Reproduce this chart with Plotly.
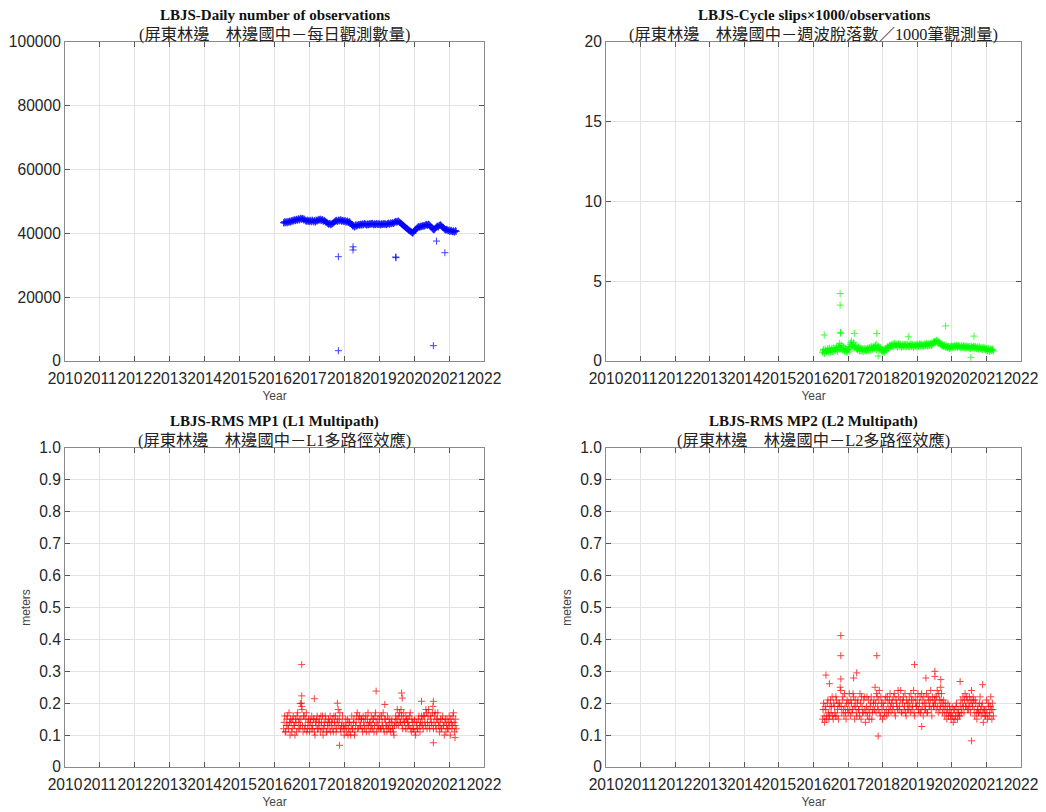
"""LBJS GNSS station quality: daily observations, cycle slips, MP1 and MP2."""

import plotly.graph_objects as go
from plotly.subplots import make_subplots

# sample epochs: one every ~11 days from 2016.26, plus a second set half a step later
start_year = 2016.26
step_year = 0.031

obs_count = [
    43400, 43700, 43300, 43600, 43800, 43500, 43900, 43700,
    44100, 43900, 44300, 44000, 44400, 44200, 44600, 44300,
    44800, 44500, 44700, 44300, 44100, 43800, 44200, 43900,
    43700, 44100, 43800, 44000, 43600, 43900, 44200, 43800,
    44400, 44200, 44500, 44100, 44300, 43900, 44000, 43700,
    43400, 43100, 42900, 43200, 42800, 43000, 43300, 43600,
    43900, 44100, 43800, 44200, 44000, 44300, 43900, 44100,
    43800, 44000, 43600, 43900, 43500, 43700, 43300, 42800,
    42200, 42500, 42100, 42700, 42400, 42800, 42500, 42900,
    42700, 43000, 42800, 43100, 42900, 42600, 43000, 42800,
    43100, 42900, 43200, 42700, 43000, 42800, 43100, 42900,
    42800, 43000, 42700, 42900, 43100, 42800, 43000, 42700,
    43000, 43200, 42900, 43300, 43100, 43400, 43200, 43600,
    43800, 43600, 43900, 43500, 43300, 43000, 42700, 42400,
    42100, 41800, 41500, 41200, 41000, 40700, 40500, 40200,
    40400, 40800, 41200, 41600, 41900, 42200, 42000, 42300,
    42200, 42500, 42300, 42600, 42800, 42500, 42900, 42600,
    42100, 41700, 41300, 41100, 41500, 41900, 42300, 42000,
    42500, 42700, 42300, 42000, 41600, 41200, 41000, 41300,
    40800, 41100, 40700, 40900, 40500, 40800, 40400, 40900,
]
obs_count_mid = [
    43200, 43500, 43600, 43300, 43600, 43800, 43500, 44000,
    43800, 44200, 44000, 44400, 44100, 44500, 44200, 44700,
    44400, 44600, 44200, 44500, 43900, 44000, 43700, 44100,
    43900, 43600, 44200, 43700, 44000, 43500, 44000, 44100,
    44100, 44400, 44000, 44300, 43800, 44100, 43600, 43500,
    43200, 42900, 43100, 42700, 43000, 43200, 43500, 43800,
    44000, 43700, 44100, 43900, 44200, 43800, 44000, 43700,
    43900, 43500, 43800, 43400, 43600, 43100, 42900, 42500,
    42400, 42000, 42600, 42300, 42600, 42700, 42800, 42600,
    42900, 42600, 43000, 42800, 42700, 42900, 42700, 43000,
    42800, 43100, 42900, 42900, 42700, 43000, 42800, 43000,
    42900, 42700, 43000, 42800, 42900, 43100, 42800, 42900,
    43100, 42900, 43200, 43000, 43300, 43100, 43500, 43700,
    43500, 43800, 43700, 43400, 43100, 42800, 42500, 42200,
    41900, 41600, 41400, 41000, 40800, 40500, 40300, 40000,
    40600, 41000, 41400, 41700, 42100, 41900, 42200, 42100,
    42400, 42200, 42500, 42700, 42600, 42800, 42700, 42400,
    41900, 41500, 41200, 41300, 41700, 42100, 42200, 42400,
    42600, 42500, 42100, 41800, 41400, 41100, 41200, 41000,
    40900, 40600, 41000, 40600, 40700, 40500, 40700, 40600,
]
obs_out_year = [2017.83, 2017.83, 2018.25, 2018.25, 2019.47, 2019.48, 2020.55, 2020.64, 2020.88]
obs_out_value = [32700, 3230, 35800, 34800, 32600, 32400, 4800, 37600, 33950]

slips = [
    0.55, 0.72, 0.48, 0.66, 0.60, 0.78, 0.52, 0.70,
    0.62, 0.80, 0.58, 0.74, 0.66, 0.85, 0.60, 0.90,
    1.10, 0.75, 0.95, 0.68, 0.82, 0.60, 0.76, 0.55,
    0.70, 0.90, 1.05, 1.25, 0.95, 1.15, 0.85, 0.98,
    0.80, 0.70, 0.85, 0.65, 0.78, 0.60, 0.74, 0.68,
    0.72, 0.66, 0.80, 0.70, 0.85, 0.75, 0.90, 0.78,
    0.95, 0.82, 1.05, 0.76, 0.88, 0.70, 0.82, 0.65,
    0.58, 0.70, 0.62, 0.80, 0.75, 0.92, 0.85, 1.00,
    0.95, 1.05, 0.90, 1.10, 0.98, 1.02, 0.88, 1.08,
    0.92, 1.00, 0.86, 1.04, 0.95, 0.90, 1.06, 0.94,
    0.98, 0.88, 1.05, 0.92, 1.00, 0.85, 1.02, 0.96,
    0.90, 1.04, 0.94, 1.08, 0.96, 1.02, 0.92, 1.06,
    0.98, 1.10, 0.95, 1.05, 1.00, 1.12, 0.96, 1.08,
    1.15, 1.25, 1.20, 1.28, 1.10, 1.18, 1.05, 0.98,
    1.00, 0.92, 0.96, 0.86, 0.90, 0.82, 0.88, 0.80,
    0.85, 0.92, 0.88, 0.95, 0.90, 0.98, 0.86, 0.94,
    0.90, 0.84, 0.96, 0.88, 0.92, 0.80, 0.94, 0.86,
    0.82, 0.90, 0.78, 0.88, 0.84, 0.92, 0.80, 0.86,
    0.78, 0.88, 0.74, 0.84, 0.80, 0.70, 0.82, 0.76,
    0.68, 0.78, 0.64, 0.74, 0.60, 0.72, 0.66, 0.70,
]
slips_mid = [
    0.64, 0.50, 0.75, 0.58, 0.70, 0.62, 0.80, 0.56,
    0.74, 0.60, 0.82, 0.66, 0.78, 0.70, 0.95, 0.72,
    0.85, 1.00, 0.70, 0.88, 0.62, 0.78, 0.58, 0.72,
    0.80, 0.62, 1.15, 0.90, 1.05, 0.82, 0.92, 0.76,
    0.72, 0.88, 0.62, 0.80, 0.66, 0.76, 0.58, 0.80,
    0.62, 0.78, 0.68, 0.82, 0.66, 0.88, 0.72, 0.84,
    0.80, 0.98, 0.70, 0.92, 0.78, 0.86, 0.68, 0.74,
    0.66, 0.54, 0.74, 0.66, 0.86, 0.78, 0.96, 0.90,
    1.00, 0.92, 1.06, 0.94, 1.08, 0.92, 1.04, 0.96,
    1.04, 0.90, 0.98, 0.92, 1.02, 1.00, 0.90, 1.02,
    0.92, 1.02, 0.94, 1.06, 0.90, 0.98, 0.92, 1.04,
    1.00, 0.92, 1.06, 0.98, 1.04, 0.94, 1.00, 0.96,
    1.04, 0.96, 1.08, 0.98, 1.06, 1.02, 1.12, 1.20,
    1.22, 1.16, 1.30, 1.14, 1.24, 1.08, 1.12, 0.94,
    0.96, 1.02, 0.88, 0.94, 0.84, 0.92, 0.78, 0.90,
    0.94, 0.84, 0.96, 0.86, 0.94, 0.88, 0.96, 0.90,
    0.86, 0.94, 0.84, 0.96, 0.86, 0.90, 0.84, 0.92,
    0.88, 0.80, 0.94, 0.82, 0.90, 0.86, 0.92, 0.80,
    0.86, 0.76, 0.90, 0.78, 0.74, 0.86, 0.72, 0.84,
    0.74, 0.66, 0.80, 0.62, 0.76, 0.66, 0.74, 0.62,
]
slips_out_year = [2016.77, 2016.77, 2016.78, 2016.79, 2016.31, 2017.18, 2017.83,
                  2019.82, 2020.64, 2020.55, 2017.87, 2018.74]
slips_out_value = [4.23, 3.5, 1.8, 1.73, 1.63, 1.73, 1.73, 2.2, 1.56, 0.23, 0.31, 1.52]

mp1 = [
    0.12, 0.16, 0.11, 0.15, 0.13, 0.17, 0.10, 0.14,
    0.12, 0.16, 0.13, 0.15, 0.11, 0.17, 0.14, 0.12,
    0.15, 0.18, 0.11, 0.16, 0.13, 0.17, 0.12, 0.15,
    0.11, 0.14, 0.16, 0.12, 0.15, 0.10, 0.13, 0.16,
    0.12, 0.15, 0.11, 0.14, 0.16, 0.12, 0.13, 0.15,
    0.11, 0.14, 0.12, 0.16, 0.13, 0.15, 0.11, 0.14,
    0.16, 0.12, 0.15, 0.13, 0.17, 0.11, 0.14, 0.12,
    0.10, 0.13, 0.11, 0.15, 0.12, 0.14, 0.10, 0.16,
    0.12, 0.15, 0.11, 0.14, 0.17, 0.12, 0.16, 0.13,
    0.15, 0.11, 0.14, 0.12, 0.16, 0.13, 0.17, 0.11,
    0.14, 0.16, 0.12, 0.15, 0.13, 0.17, 0.11, 0.15,
    0.13, 0.16, 0.12, 0.14, 0.17, 0.11, 0.15, 0.13,
    0.16, 0.12, 0.14, 0.11, 0.15, 0.13, 0.10, 0.14,
    0.15, 0.18, 0.13, 0.17, 0.14, 0.16, 0.12, 0.17,
    0.14, 0.16, 0.12, 0.15, 0.13, 0.17, 0.11, 0.14,
    0.12, 0.15, 0.10, 0.14, 0.12, 0.16, 0.11, 0.13,
    0.15, 0.12, 0.16, 0.13, 0.17, 0.14, 0.18, 0.12,
    0.16, 0.13, 0.19, 0.14, 0.17, 0.12, 0.15, 0.13,
    0.11, 0.15, 0.12, 0.16, 0.13, 0.14, 0.11, 0.15,
    0.12, 0.16, 0.10, 0.14, 0.13, 0.17, 0.11, 0.15,
]
mp1_mid = [
    0.14, 0.11, 0.13, 0.16, 0.12, 0.14, 0.15, 0.11,
    0.15, 0.13, 0.10, 0.14, 0.16, 0.12, 0.15, 0.13,
    0.20, 0.13, 0.16, 0.12, 0.15, 0.11, 0.14, 0.13,
    0.15, 0.12, 0.13, 0.15, 0.11, 0.14, 0.15, 0.12,
    0.14, 0.13, 0.16, 0.12, 0.10, 0.14, 0.16, 0.11,
    0.13, 0.15, 0.14, 0.11, 0.14, 0.12, 0.16, 0.13,
    0.11, 0.14, 0.18, 0.15, 0.12, 0.13, 0.16, 0.13,
    0.12, 0.15, 0.13, 0.10, 0.14, 0.11, 0.13, 0.12,
    0.14, 0.10, 0.13, 0.16, 0.12, 0.15, 0.13, 0.15,
    0.12, 0.16, 0.13, 0.15, 0.11, 0.15, 0.13, 0.14,
    0.12, 0.13, 0.15, 0.11, 0.16, 0.14, 0.13, 0.12,
    0.15, 0.12, 0.16, 0.13, 0.12, 0.15, 0.13, 0.11,
    0.13, 0.15, 0.12, 0.14, 0.12, 0.11, 0.13, 0.16,
    0.13, 0.15, 0.16, 0.14, 0.18, 0.13, 0.15, 0.14,
    0.12, 0.15, 0.14, 0.13, 0.16, 0.12, 0.15, 0.12,
    0.14, 0.11, 0.13, 0.12, 0.15, 0.13, 0.14, 0.16,
    0.13, 0.16, 0.14, 0.18, 0.12, 0.16, 0.13, 0.15,
    0.14, 0.17, 0.12, 0.16, 0.13, 0.15, 0.17, 0.14,
    0.13, 0.12, 0.15, 0.13, 0.10, 0.15, 0.13, 0.12,
    0.14, 0.13, 0.15, 0.12, 0.16, 0.14, 0.13, 0.12,
]
mp1_out_year = [2016.78, 2016.78, 2016.74, 2016.78, 2017.14, 2017.86, 2018.91,
                2019.64, 2019.66, 2017.80, 2020.55, 2020.21, 2020.55, 2021.17, 2019.16]
mp1_out_value = [0.321, 0.223, 0.199, 0.19, 0.214, 0.068, 0.238,
                 0.232, 0.216, 0.2, 0.076, 0.206, 0.206, 0.092, 0.196]

mp2 = [
    0.15, 0.20, 0.14, 0.18, 0.16, 0.21, 0.15, 0.19,
    0.17, 0.22, 0.15, 0.19, 0.16, 0.21, 0.18, 0.15,
    0.20, 0.24, 0.17, 0.22, 0.16, 0.19, 0.15, 0.21,
    0.17, 0.23, 0.16, 0.20, 0.18, 0.22, 0.15, 0.19,
    0.16, 0.21, 0.18, 0.23, 0.15, 0.19, 0.17, 0.22,
    0.14, 0.19, 0.16, 0.21, 0.17, 0.20, 0.15, 0.18,
    0.21, 0.25, 0.17, 0.22, 0.18, 0.24, 0.16, 0.20,
    0.15, 0.19, 0.17, 0.22, 0.16, 0.20, 0.18, 0.23,
    0.17, 0.21, 0.19, 0.23, 0.16, 0.20, 0.18, 0.22,
    0.19, 0.24, 0.17, 0.21, 0.18, 0.23, 0.16, 0.20,
    0.18, 0.22, 0.17, 0.21, 0.19, 0.24, 0.16, 0.20,
    0.19, 0.23, 0.17, 0.22, 0.18, 0.21, 0.16, 0.20,
    0.18, 0.23, 0.17, 0.21, 0.19, 0.24, 0.16, 0.20,
    0.19, 0.22, 0.18, 0.24, 0.17, 0.21, 0.19, 0.23,
    0.17, 0.21, 0.16, 0.19, 0.15, 0.20, 0.17, 0.18,
    0.15, 0.19, 0.14, 0.18, 0.16, 0.20, 0.15, 0.17,
    0.16, 0.21, 0.18, 0.22, 0.17, 0.23, 0.19, 0.21,
    0.18, 0.22, 0.17, 0.24, 0.19, 0.21, 0.16, 0.20,
    0.15, 0.19, 0.17, 0.22, 0.16, 0.20, 0.14, 0.18,
    0.16, 0.21, 0.15, 0.19, 0.17, 0.22, 0.15, 0.18,
]
mp2_mid = [
    0.18, 0.16, 0.19, 0.15, 0.20, 0.17, 0.16, 0.21,
    0.19, 0.16, 0.20, 0.17, 0.22, 0.16, 0.20, 0.19,
    0.25, 0.19, 0.21, 0.18, 0.23, 0.17, 0.20, 0.18,
    0.20, 0.18, 0.21, 0.17, 0.23, 0.19, 0.21, 0.17,
    0.20, 0.18, 0.16, 0.20, 0.22, 0.17, 0.21, 0.18,
    0.17, 0.22, 0.18, 0.15, 0.19, 0.22, 0.17, 0.20,
    0.18, 0.20, 0.23, 0.19, 0.21, 0.17, 0.22, 0.18,
    0.20, 0.16, 0.21, 0.18, 0.22, 0.17, 0.21, 0.19,
    0.20, 0.18, 0.22, 0.17, 0.21, 0.19, 0.24, 0.18,
    0.21, 0.17, 0.20, 0.22, 0.19, 0.17, 0.21, 0.18,
    0.20, 0.19, 0.23, 0.18, 0.21, 0.17, 0.22, 0.19,
    0.21, 0.18, 0.20, 0.17, 0.23, 0.19, 0.22, 0.18,
    0.20, 0.17, 0.22, 0.19, 0.21, 0.18, 0.22, 0.19,
    0.21, 0.20, 0.22, 0.19, 0.23, 0.18, 0.21, 0.20,
    0.19, 0.18, 0.20, 0.17, 0.18, 0.16, 0.19, 0.16,
    0.17, 0.16, 0.18, 0.15, 0.19, 0.17, 0.18, 0.16,
    0.19, 0.17, 0.20, 0.19, 0.21, 0.19, 0.22, 0.18,
    0.20, 0.19, 0.21, 0.20, 0.22, 0.18, 0.21, 0.17,
    0.18, 0.17, 0.20, 0.18, 0.19, 0.17, 0.18, 0.16,
    0.18, 0.17, 0.20, 0.16, 0.19, 0.18, 0.20, 0.16,
]
mp2_out_year = [2016.79, 2016.79, 2016.79, 2016.36, 2016.46, 2017.25, 2017.16, 2017.83,
                2017.87, 2018.92, 2019.51, 2019.51, 2019.25, 2019.68, 2019.68,
                2020.57, 2020.89, 2020.24, 2019.13]
mp2_out_value = [0.412, 0.349, 0.276, 0.288, 0.261, 0.295, 0.279, 0.349,
                 0.097, 0.321, 0.3, 0.284, 0.279, 0.274, 0.25,
                 0.082, 0.258, 0.268, 0.127]

year_ticks = list(range(2010, 2023))
meter_ticks = [0, 0.1, 0.2, 0.3, 0.4, 0.5, 0.6, 0.7, 0.8, 0.9, 1.0]
meter_labels = ["0", "0.1", "0.2", "0.3", "0.4", "0.5", "0.6", "0.7", "0.8", "0.9", "1.0"]

epochs = [start_year + step_year * i for i in range(len(obs_count))]
epochs_mid = [e + step_year / 2 for e in epochs]

panels = [
    ([obs_count, obs_count_mid], obs_out_year, obs_out_value, "#0000ff",
     "LBJS-Daily number of observations", "(屏東林邊　林邊國中－每日觀測數量)",
     [0, 100000], [0, 20000, 40000, 60000, 80000, 100000], None, None),
    ([slips, slips_mid], slips_out_year, slips_out_value, "#00ff00",
     "LBJS-Cycle slips×1000/observations", "(屏東林邊　林邊國中－週波脫落數／1000筆觀測量)",
     [0, 20], [0, 5, 10, 15, 20], None, None),
    ([mp1, mp1_mid], mp1_out_year, mp1_out_value, "#ff0000",
     "LBJS-RMS MP1 (L1 Multipath)", "(屏東林邊　林邊國中－L1多路徑效應)",
     [0, 1], meter_ticks, meter_labels, "meters"),
    ([mp2, mp2_mid], mp2_out_year, mp2_out_value, "#ff0000",
     "LBJS-RMS MP2 (L2 Multipath)", "(屏東林邊　林邊國中－L2多路徑效應)",
     [0, 1], meter_ticks, meter_labels, "meters"),
]

# the page body adds an 8px margin, so the figure is placed 8px in
PAGE_W, PAGE_H, OFF = 1046, 812, 8
W, H = PAGE_W - OFF, PAGE_H - OFF
# plot boxes in page pixels: (left, right, top, bottom)
boxes = [(65, 484, 42, 361), (606, 1021, 42, 361), (65, 484, 448, 767), (606, 1021, 448, 767)]

fig = make_subplots(rows=2, cols=2)
axis_font = dict(family="Liberation Sans, Arial, sans-serif", size=15.6, color="#262626")
label_font = dict(family="Liberation Sans, Arial, sans-serif", size=12, color="#444444")

for k, (series, oy, ov, color, title, subtitle, yr, yt, ytext, ylab) in enumerate(panels):
    row, col = k // 2 + 1, k % 2 + 1
    left, right, top, bottom = [v - OFF for v in boxes[k]]
    marker = dict(symbol="cross-thin", size=5, line=dict(width=1, color=color), color=color,
                  opacity=0.75)
    for xs, ys in ((epochs, series[0]), (epochs_mid, series[1]), (oy, ov)):
        fig.add_trace(go.Scatter(x=xs, y=ys, mode="markers", marker=marker,
                                 showlegend=False, hoverinfo="x+y"), row=row, col=col)

    fig.update_xaxes(range=[2010, 2022], tickvals=year_ticks, ticktext=[str(y) for y in year_ticks],
                     domain=[left / W, right / W], showgrid=True, gridcolor="#e3e3e3",
                     ticks="inside", ticklen=5, tickcolor="#555555", mirror="allticks",
                     showline=True, linecolor="#8a8a8a", linewidth=1, zeroline=False,
                     tickfont=axis_font, tickangle=0, automargin=False, ticklabelstandoff=3,
                     title=dict(text="Year", font=label_font, standoff=5),
                     row=row, col=col)
    fig.update_yaxes(range=yr, tickvals=yt, ticktext=ytext if ytext else [str(v) for v in yt],
                     domain=[1 - bottom / H, 1 - top / H], showgrid=True, gridcolor="#e3e3e3",
                     ticks="inside", ticklen=5, tickcolor="#555555", mirror="allticks",
                     showline=True, linecolor="#8a8a8a", linewidth=1, zeroline=False,
                     tickfont=axis_font, automargin=False,
                     title=dict(text=ylab or "", font=label_font, standoff=5),
                     row=row, col=col)

    cx = (left + right) / 2 / W
    fig.add_annotation(x=cx, y=1 - (top - 27) / H, xref="paper", yref="paper", showarrow=False,
                       text=f"<b>{title}</b>", xanchor="center", yanchor="middle",
                       font=dict(family="Liberation Serif, Times New Roman, serif", size=15, color="#111111"))
    fig.add_annotation(x=cx, y=1 - (top - 8) / H, xref="paper", yref="paper", showarrow=False,
                       text=subtitle, xanchor="center", yanchor="middle",
                       font=dict(family="Liberation Serif, Noto Sans CJK TC, serif", size=16.3, color="#222222"))

fig.update_layout(width=W, height=H, margin=dict(l=0, r=0, t=0, b=0),
                  paper_bgcolor="white", plot_bgcolor="white")

fig.write_html("out.html")
